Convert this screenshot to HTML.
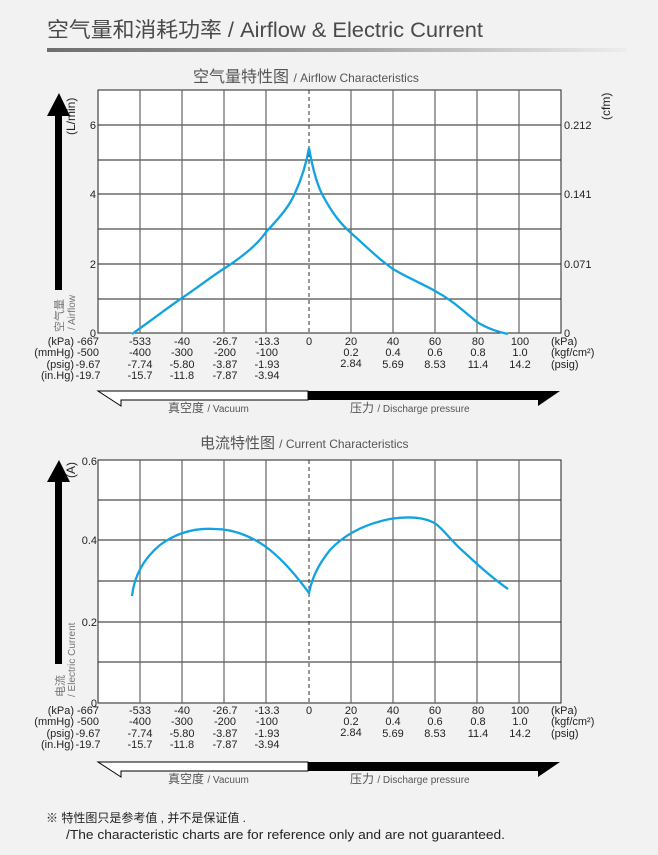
<!DOCTYPE html>
<html><head><meta charset="utf-8"><style>
html,body{margin:0;padding:0;background:#f2f2f2;}
svg{display:block;font-family:"Liberation Sans","Noto Sans CJK SC",sans-serif;}
</style></head><body>
<svg width="658" height="855" viewBox="0 0 658 855" xmlns="http://www.w3.org/2000/svg">
<defs>
<linearGradient id="g" x1="0" x2="1"><stop offset="0" stop-color="#6e6e6e"/><stop offset="0.55" stop-color="#a8a8a8"/><stop offset="1" stop-color="#ededed"/></linearGradient>
</defs>
<text x="47" y="37" font-size="21" fill="#4a4a4a" textLength="436" lengthAdjust="spacingAndGlyphs">空气量和消耗功率 / Airflow &amp; Electric Current</text>
<rect x="47" y="48" width="580" height="4" fill="url(#g)"/>

<!-- Chart 1 -->
<text x="193" y="82" font-size="16" fill="#555">空气量特性图 <tspan font-size="12">/ Airflow Characteristics</tspan></text>
<rect x="98" y="90" width="463" height="243" fill="#fff" stroke="#222" stroke-width="1"/>
<g stroke="#222" stroke-width="1">
<line x1="98" y1="125" x2="561" y2="125"/><line x1="98" y1="160" x2="561" y2="160"/><line x1="98" y1="194" x2="561" y2="194"/><line x1="98" y1="229" x2="561" y2="229"/><line x1="98" y1="264" x2="561" y2="264"/><line x1="98" y1="299" x2="561" y2="299"/>
</g>
<g stroke="#666" stroke-width="1.2">
<line x1="140" y1="90" x2="140" y2="333"/><line x1="182" y1="90" x2="182" y2="333"/><line x1="224" y1="90" x2="224" y2="333"/><line x1="266" y1="90" x2="266" y2="333"/><line x1="351" y1="90" x2="351" y2="333"/><line x1="393" y1="90" x2="393" y2="333"/><line x1="435" y1="90" x2="435" y2="333"/><line x1="477" y1="90" x2="477" y2="333"/><line x1="519" y1="90" x2="519" y2="333"/>
</g>
<line x1="309" y1="90" x2="309" y2="333" stroke="#333" stroke-dasharray="4,3"/>
<path d="M132,334 C160,314 170,306 182,298 C200,286 212,276 225,268 C245,255 258,244 266,232 C282,215 290,205 295,193 C302,178 306,165 309,148 C312,165 316,182 322,194 C333,215 342,225 351,233 C370,250 380,260 393,269 C410,279 425,285 435,291 C452,300 462,310 477,322 C490,330 500,332 508,334" fill="none" stroke="#12a3e0" stroke-width="2.3"/>
<g font-size="11" fill="#222" text-anchor="end">
<text x="96" y="129">6</text><text x="96" y="198">4</text><text x="96" y="268">2</text><text x="96" y="337">0</text>
</g>
<g font-size="11" fill="#222">
<text x="564" y="129">0.212</text><text x="564" y="198">0.141</text><text x="564" y="268">0.071</text><text x="564" y="337">0</text>
</g>
<text transform="translate(610,120) rotate(-90)" font-size="12" fill="#222">(cfm)</text>
<text transform="translate(75,135) rotate(-90)" font-size="12" fill="#222">(L/min)</text>
<path d="M55,290 L55,116 L47,116 L59,93 L70,116 L62,116 L62,290 Z" fill="#000"/>
<text transform="translate(63,332) rotate(-90)" font-size="11" fill="#777">空气量</text>
<text transform="translate(75,330) rotate(-90)" font-size="10" fill="#777">/ Airflow</text>

<g font-size="11" fill="#222">
<g text-anchor="end"><text x="74" y="345">(kPa)</text><text x="74" y="356">(mmHg)</text><text x="74" y="368">(psig)</text><text x="74" y="379">(in.Hg)</text></g>
<g text-anchor="middle">
<text x="88" y="345">-667</text><text x="88" y="356">-500</text><text x="88" y="368">-9.67</text><text x="88" y="379">-19.7</text>
<text x="140" y="345">-533</text><text x="140" y="356">-400</text><text x="140" y="368">-7.74</text><text x="140" y="379">-15.7</text>
<text x="182" y="345">-40</text><text x="182" y="356">-300</text><text x="182" y="368">-5.80</text><text x="182" y="379">-11.8</text>
<text x="225" y="345">-26.7</text><text x="225" y="356">-200</text><text x="225" y="368">-3.87</text><text x="225" y="379">-7.87</text>
<text x="267" y="345">-13.3</text><text x="267" y="356">-100</text><text x="267" y="368">-1.93</text><text x="267" y="379">-3.94</text>
<text x="309" y="345">0</text>
<text x="351" y="345">20</text><text x="351" y="356">0.2</text><text x="351" y="367">2.84</text>
<text x="393" y="345">40</text><text x="393" y="356">0.4</text><text x="393" y="368">5.69</text>
<text x="435" y="345">60</text><text x="435" y="356">0.6</text><text x="435" y="368">8.53</text>
<text x="478" y="345">80</text><text x="478" y="356">0.8</text><text x="478" y="368">11.4</text>
<text x="520" y="345">100</text><text x="520" y="356">1.0</text><text x="520" y="368">14.2</text>
</g>
<text x="551" y="345">(kPa)</text><text x="551" y="356">(kgf/cm²)</text><text x="551" y="368">(psig)</text>
</g>
<path d="M98,391 L308,391 L308,400 L121,400 L121,406 Z" fill="#fff" stroke="#000" stroke-width="1"/>
<path d="M308,391 L560,391 L538,406 L538,400 L308,400 Z" fill="#000"/>
<text x="168" y="412" font-size="12" fill="#555">真空度 <tspan font-size="10">/ Vacuum</tspan></text>
<text x="350" y="412" font-size="12" fill="#555">压力 <tspan font-size="10">/ Discharge pressure</tspan></text>

<!-- Chart 2 -->
<text x="200" y="448" font-size="15" fill="#555">电流特性图 <tspan font-size="12">/ Current Characteristics</tspan></text>
<rect x="98" y="460" width="463" height="243" fill="#fff" stroke="#222" stroke-width="1"/>
<g stroke="#222" stroke-width="1">
<line x1="98" y1="500" x2="561" y2="500"/><line x1="98" y1="540" x2="561" y2="540"/><line x1="98" y1="581" x2="561" y2="581"/><line x1="98" y1="622" x2="561" y2="622"/><line x1="98" y1="662" x2="561" y2="662"/>
</g>
<g stroke="#666" stroke-width="1.2">
<line x1="140" y1="460" x2="140" y2="703"/><line x1="182" y1="460" x2="182" y2="703"/><line x1="224" y1="460" x2="224" y2="703"/><line x1="266" y1="460" x2="266" y2="703"/><line x1="351" y1="460" x2="351" y2="703"/><line x1="393" y1="460" x2="393" y2="703"/><line x1="435" y1="460" x2="435" y2="703"/><line x1="477" y1="460" x2="477" y2="703"/><line x1="519" y1="460" x2="519" y2="703"/>
</g>
<line x1="309" y1="460" x2="309" y2="703" stroke="#333" stroke-dasharray="4,3"/>
<path d="M132,596 C134,578 142,560 160,545 C180,530 200,528 215,529 C235,529 255,538 270,550 C285,562 298,578 309,593 C312,578 318,565 330,550 C345,534 365,524 390,519 C410,516 425,517 436,524 C446,532 452,542 465,553 C480,567 495,580 508,589" fill="none" stroke="#12a3e0" stroke-width="2.3"/>
<g font-size="11" fill="#222" text-anchor="end">
<text x="97" y="465">0.6</text><text x="97" y="544">0.4</text><text x="97" y="626">0.2</text><text x="97" y="707">0</text>
</g>
<text transform="translate(75,478) rotate(-90)" font-size="12" fill="#222">(A)</text>
<path d="M55,664 L55,482 L47,482 L59,460 L70,482 L62,482 L62,664 Z" fill="#000"/>
<text transform="translate(64,697) rotate(-90)" font-size="11" fill="#777">电流</text>
<text transform="translate(75,697) rotate(-90)" font-size="10" fill="#777">/ Electric Current</text>
<g font-size="11" fill="#222">
<g text-anchor="end"><text x="74" y="714">(kPa)</text><text x="74" y="725">(mmHg)</text><text x="74" y="737">(psig)</text><text x="74" y="748">(in.Hg)</text></g>
<g text-anchor="middle">
<text x="88" y="714">-667</text><text x="88" y="725">-500</text><text x="88" y="737">-9.67</text><text x="88" y="748">-19.7</text>
<text x="140" y="714">-533</text><text x="140" y="725">-400</text><text x="140" y="737">-7.74</text><text x="140" y="748">-15.7</text>
<text x="182" y="714">-40</text><text x="182" y="725">-300</text><text x="182" y="737">-5.80</text><text x="182" y="748">-11.8</text>
<text x="225" y="714">-26.7</text><text x="225" y="725">-200</text><text x="225" y="737">-3.87</text><text x="225" y="748">-7.87</text>
<text x="267" y="714">-13.3</text><text x="267" y="725">-100</text><text x="267" y="737">-1.93</text><text x="267" y="748">-3.94</text>
<text x="309" y="714">0</text>
<text x="351" y="714">20</text><text x="351" y="725">0.2</text><text x="351" y="736">2.84</text>
<text x="393" y="714">40</text><text x="393" y="725">0.4</text><text x="393" y="737">5.69</text>
<text x="435" y="714">60</text><text x="435" y="725">0.6</text><text x="435" y="737">8.53</text>
<text x="478" y="714">80</text><text x="478" y="725">0.8</text><text x="478" y="737">11.4</text>
<text x="520" y="714">100</text><text x="520" y="725">1.0</text><text x="520" y="737">14.2</text>
</g>
<text x="551" y="714">(kPa)</text><text x="551" y="725">(kgf/cm²)</text><text x="551" y="737">(psig)</text>
</g>
<path d="M98,762 L308,762 L308,771 L121,771 L121,777 Z" fill="#fff" stroke="#000" stroke-width="1"/>
<path d="M308,762 L560,762 L538,777 L538,771 L308,771 Z" fill="#000"/>
<text x="168" y="783" font-size="12" fill="#555">真空度 <tspan font-size="10">/ Vacuum</tspan></text>
<text x="350" y="783" font-size="12" fill="#555">压力 <tspan font-size="10">/ Discharge pressure</tspan></text>

<text x="46" y="822" font-size="12" fill="#222">※ 特性图只是参考值 , 并不是保证值 .</text>
<text x="66" y="839" font-size="13" fill="#222" textLength="439" lengthAdjust="spacingAndGlyphs">/The characteristic charts are for reference only and are not guaranteed.</text>
</svg>
</body></html>
